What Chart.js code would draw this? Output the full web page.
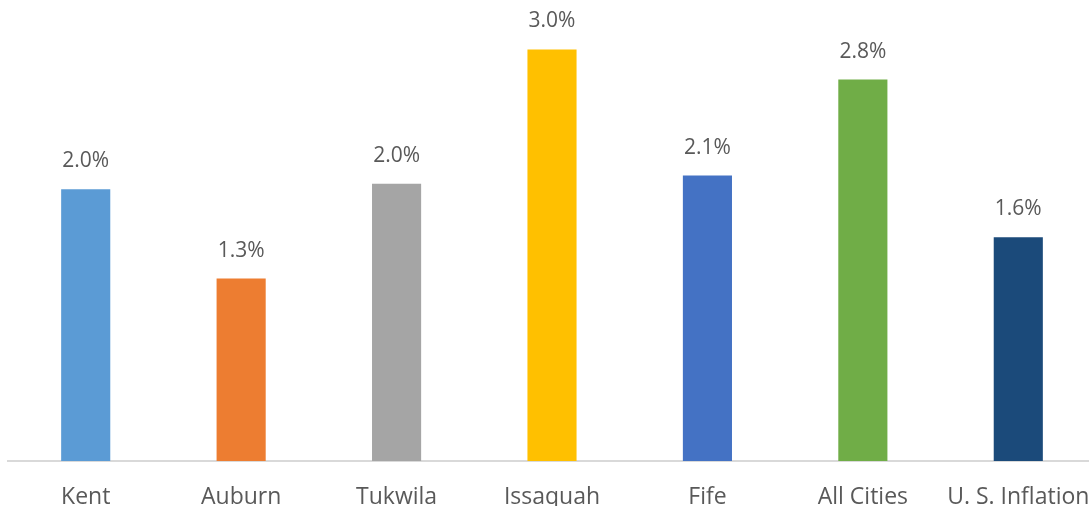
<!DOCTYPE html>
<html>
<head>
<meta charset="utf-8">
<script src="https://cdn.jsdelivr.net/npm/chart.js@4"></script>
<style>
  html, body { margin: 0; padding: 0; background: #fff; overflow: hidden; }
  canvas { display: block; }
</style>
</head>
<body>
<canvas id="chart" width="1096" height="506"></canvas>
<script>
const categories = ['Kent', 'Auburn', 'Tukwila', 'Issaquah', 'Fife', 'All Cities', 'U. S. Inflation'];
const growthValues = [1.98, 1.33, 2.02, 3.0, 2.08, 2.78, 1.63];
const barColors = ['#5b9bd5', '#ed7d31', '#a5a5a5', '#ffc000', '#4472c4', '#70ad47', '#1b4a7a'];

// draw the value labels above each bar
const valueLabels = {
    id: 'valueLabels',
    afterDatasetsDraw(chart) {
        const ctx = chart.ctx;
        const meta = chart.getDatasetMeta(0);
        ctx.save();
        ctx.font = '21px "Open Sans"';
        ctx.fillStyle = '#595959';
        ctx.textAlign = 'center';
        ctx.textBaseline = 'middle';
        meta.data.forEach((bar, i) => {
            ctx.fillText(growthValues[i].toFixed(1) + '%', bar.x, bar.y - 28);
        });
        ctx.restore();
    }
};

const ctx = document.getElementById('chart').getContext('2d');
new Chart(ctx, {
    type: 'bar',
    data: {
        labels: categories,
        datasets: [{
            data: growthValues,
            backgroundColor: barColors,
            borderWidth: 0,
            barPercentage: 0.316,
            categoryPercentage: 1
        }]
    },
    options: {
        responsive: false,
        animation: false,
        layout: { padding: { left: 8, right: 0, top: 0, bottom: 0 } },
        scales: {
            x: {
                grid: { display: false, drawTicks: false },
                border: { display: true, color: '#d9d9d9', width: 2 },
                ticks: {
                    color: '#595959',
                    font: { family: '"Open Sans"', size: 23 },
                    padding: 23,
                    autoSkip: false,
                    maxRotation: 0
                },
                afterFit(axis) {
                    axis.height = 45;
                    // let the last label run off the edge like the original
                    axis.paddingLeft = 0;
                    axis.paddingRight = 0;
                }
            },
            y: {
                display: false,
                min: 0,
                max: 3.36
            }
        },
        plugins: {
            legend: { display: false },
            tooltip: { enabled: false }
        }
    },
    plugins: [valueLabels]
});
</script>
</body>
</html>
